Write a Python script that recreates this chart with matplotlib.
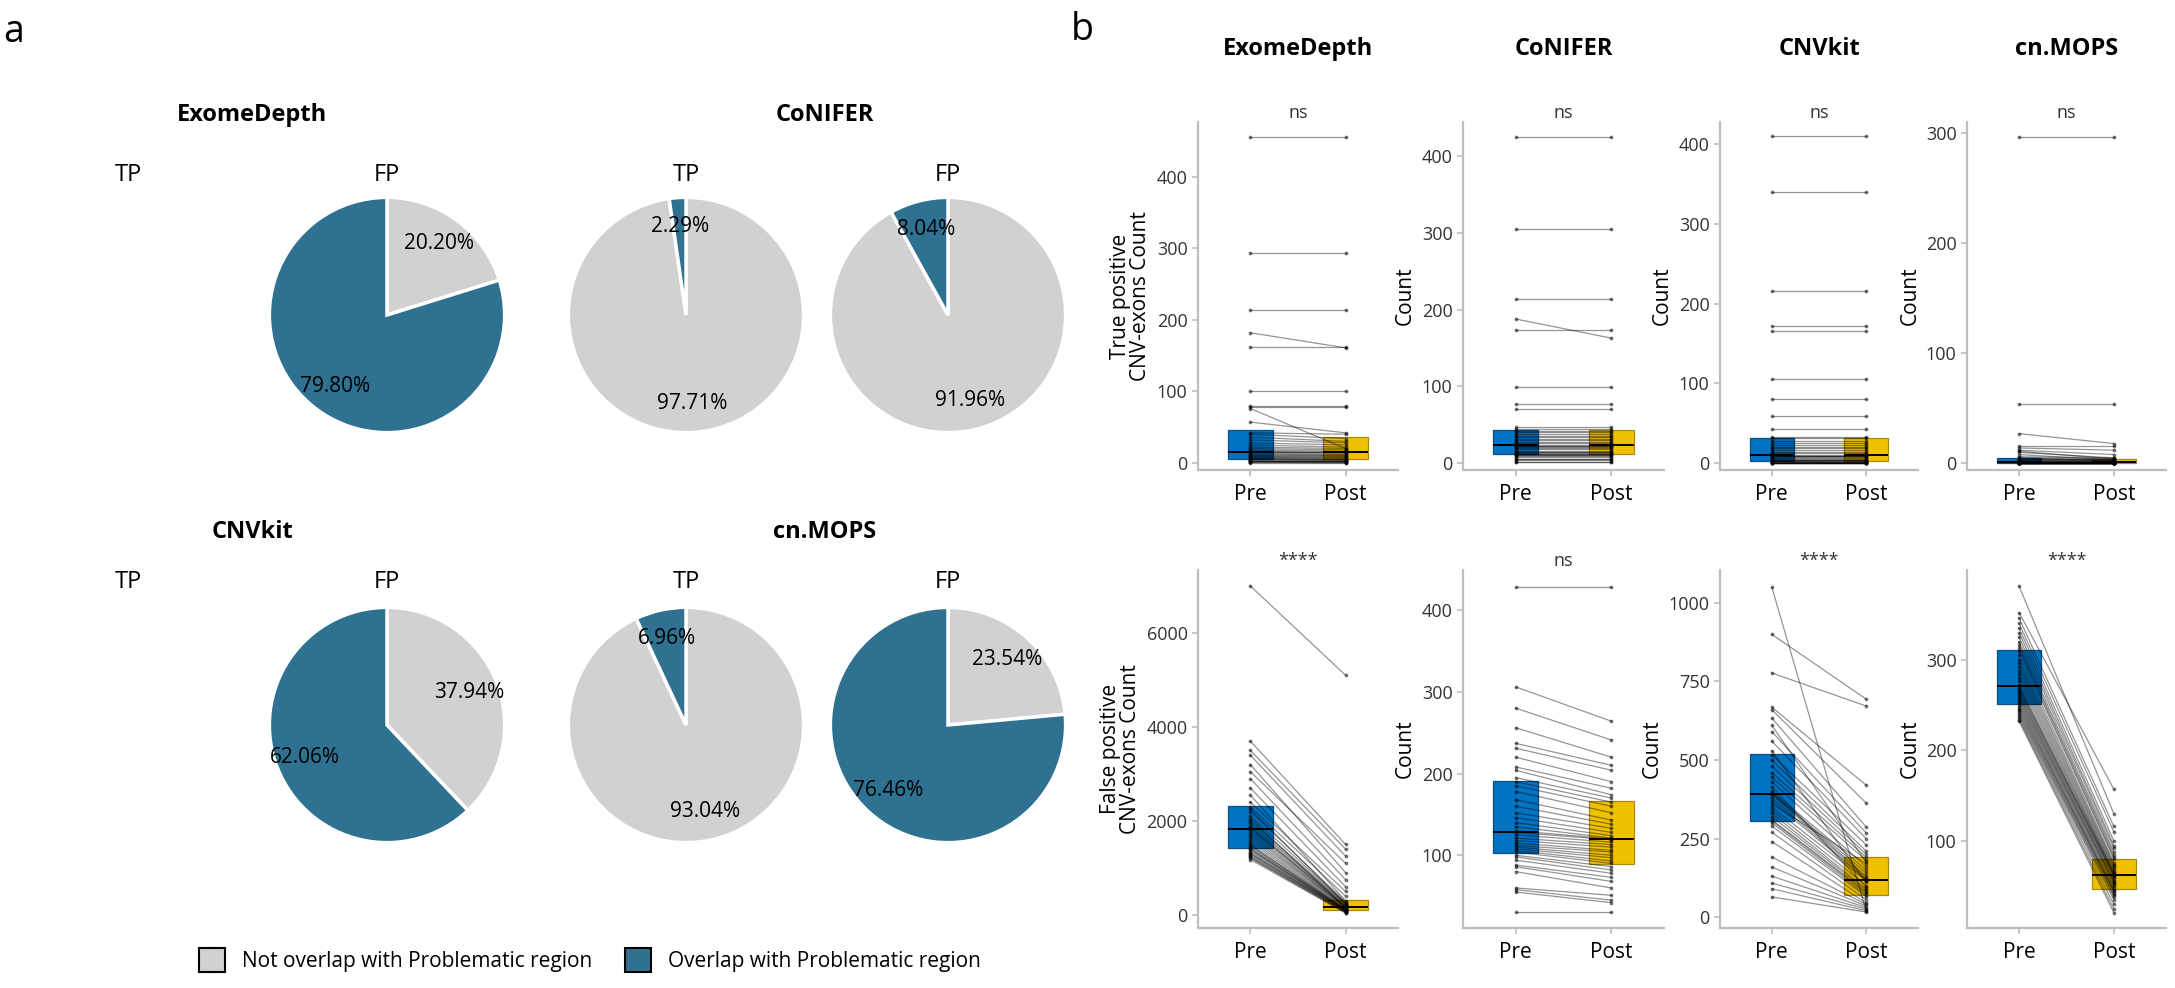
import numpy as np
import matplotlib
matplotlib.use("Agg")
import matplotlib.pyplot as plt
from matplotlib.patches import Patch

plt.rcParams['font.family'] = ['Open Sans', 'DejaVu Sans']

# ---------------- panel a data (percent of calls) ----------------
pie_tools = ['ExomeDepth', 'CoNIFER', 'CNVkit', 'cn.MOPS']
# [not overlap, overlap]; None = no pie drawn
pie_tp = {'ExomeDepth': None, 'CoNIFER': [97.71, 2.29],
          'CNVkit': None, 'cn.MOPS': [93.04, 6.96]}
pie_fp = {'ExomeDepth': [20.20, 79.80], 'CoNIFER': [91.96, 8.04],
          'CNVkit': [37.94, 62.06], 'cn.MOPS': [23.54, 76.46]}
legend_labels = ['Not overlap with Problematic region', 'Overlap with Problematic region']

# ---------------- panel b data (CNV-exon counts per sample) ----------------
groups = ['Pre', 'Post']

ed_tp_pre = [456, 294, 214, 182, 162, 101, 79, 78, 76, 57, 42, 40, 36, 32, 28, 25, 22, 20, 18, 16,
             15, 15, 14, 12, 11, 10, 9, 8, 7, 6, 6, 5, 4, 3, 3, 2, 2, 1, 1, 0]
ed_tp_post = [456, 294, 214, 161, 162, 101, 79, 78, 20, 42, 40, 34, 30, 28, 25, 22, 20, 18, 16, 15,
              15, 14, 12, 11, 10, 9, 8, 7, 6, 5, 4, 4, 3, 3, 2, 2, 1, 1, 0, 0]

cf_tp_pre = [426, 305, 214, 188, 174, 99, 77, 70, 47, 45, 42, 40, 38, 36, 34, 32, 30, 28, 26, 24,
             22, 22, 21, 20, 18, 16, 15, 14, 13, 12, 12, 11, 10, 9, 8, 6, 5, 4, 2, 1]
cf_tp_post = [426, 305, 214, 163, 174, 99, 77, 70, 47, 45, 42, 40, 38, 36, 34, 32, 30, 28, 26, 24,
              22, 22, 21, 20, 18, 16, 15, 14, 13, 12, 12, 11, 10, 9, 8, 6, 5, 4, 2, 1]

ck_tp_pre = [410, 340, 216, 172, 165, 105, 80, 59, 42, 33, 31, 28, 25, 22, 20, 18, 16, 14, 12, 10,
             9, 8, 8, 7, 6, 5, 4, 4, 3, 2, 2, 1, 1, 1, 0, 0, 0, 0, 0, 0]
ck_tp_post = [410, 340, 216, 172, 165, 105, 80, 59, 42, 33, 31, 28, 25, 22, 20, 18, 16, 14, 12, 10,
              9, 8, 8, 7, 6, 5, 4, 4, 3, 2, 1, 1, 1, 0, 0, 0, 0, 0, 0, 0]

cm_tp_pre = [296, 54, 27, 16, 14, 12, 11, 10, 8, 6, 5, 5, 4, 4, 3, 3, 2, 2, 2, 1,
             1, 1, 1, 0, 0, 0, 0, 0, 0, 0, 0, 0, 0, 0, 0, 0, 0, 0, 0, 0]
cm_tp_post = [296, 54, 18, 16, 12, 8, 4, 5, 3, 5, 4, 2, 3, 4, 2, 3, 1, 2, 2, 1,
              1, 0, 1, 0, 0, 0, 0, 0, 0, 0, 0, 0, 0, 0, 0, 0, 0, 0, 0, 0]

ed_fp_pre = [7000, 3700, 3500, 3400, 3200, 3050, 2900, 2700, 2550, 2400, 2300, 2250, 2200, 2100,
             2050, 2000, 1950, 1900, 1850, 1850, 1800, 1750, 1700, 1650, 1600, 1550, 1500, 1480,
             1450, 1420, 1400, 1380, 1350, 1320, 1300, 1280, 1250, 1230, 1210, 1180]
ed_fp_post = [5100, 1500, 1400, 1250, 900, 1100, 750, 600, 300, 500, 400, 240, 280, 260, 150,
              250, 230, 220, 200, 190, 180, 170, 165, 160, 140, 130, 120, 115, 110, 105, 100, 95,
              90, 85, 80, 75, 70, 60, 50, 40]

cf_fp_pre = [428, 306, 280, 256, 237, 231, 220, 208, 204, 195, 190, 185, 178, 168, 160, 152, 146,
             140, 135, 130, 128, 125, 121, 118, 115, 112, 110, 108, 106, 104, 100, 98, 94, 88, 86,
             80, 60, 58, 55, 31]
cf_fp_post = [428, 264, 241, 220, 210, 204, 190, 182, 174, 170, 165, 160, 152, 143, 138, 133, 128,
              124, 121, 120, 119, 116, 113, 110, 106, 104, 100, 97, 93, 90, 86, 82, 78, 73, 68, 60,
              51, 45, 42, 31]

ck_fp_pre = [1050, 900, 777, 668, 660, 633, 610, 590, 560, 530, 516, 500, 480, 460, 445, 430, 415,
             400, 395, 395, 390, 380, 370, 360, 350, 340, 330, 320, 310, 306, 300, 290, 270, 240,
             191, 159, 130, 108, 90, 64]
ck_fp_post = [20, 694, 672, 420, 363, 287, 175, 268, 250, 110, 230, 210, 200, 190, 180, 160, 95,
              150, 140, 130, 125, 120, 118, 170, 115, 100, 90, 85, 80, 76, 70, 65, 55, 45, 40, 35,
              30, 25, 20, 16]

cm_fp_pre = [381, 352, 346, 340, 335, 330, 325, 320, 316, 313, 310, 305, 300, 296, 292, 288, 284,
             280, 276, 272, 270, 268, 266, 264, 262, 260, 258, 256, 254, 252, 250, 248, 246, 244,
             242, 240, 238, 236, 234, 232]
cm_fp_post = [130, 157, 116, 110, 100, 95, 92, 88, 85, 82, 80, 76, 74, 72, 70, 68, 66, 65, 64, 63,
              62, 61, 60, 58, 56, 55, 54, 52, 50, 48, 46, 45, 44, 42, 40, 38, 35, 30, 25, 21]

tp_sets = [(ed_tp_pre, ed_tp_post), (cf_tp_pre, cf_tp_post), (ck_tp_pre, ck_tp_post), (cm_tp_pre, cm_tp_post)]
fp_sets = [(ed_fp_pre, ed_fp_post), (cf_fp_pre, cf_fp_post), (ck_fp_pre, ck_fp_post), (cm_fp_pre, cm_fp_post)]
tp_signif = ['ns', 'ns', 'ns', 'ns']
fp_signif = ['****', 'ns', '****', '****']

# styling
TEAL = '#2E7190'
LGRAY = '#D3D0D1'
BLUE = '#0073C2'
YELLOW = '#EFC000'
AXGRAY = '#BEBEBE'

W, H = 2175, 988
fig = plt.figure(figsize=(W / 100, H / 100), dpi=100)


def px_axes(left, top, right, bottom):
    return fig.add_axes([left / W, 1 - bottom / H, (right - left) / W, (bottom - top) / H])


def ftext(x, y, s, **kw):
    fig.text(x / W, 1 - y / H, s, ha='center', va='center', **kw)


# ---------------- panel a ----------------
ftext(14, 32, 'a', fontsize=27)
ftext(1082, 30, 'b', fontsize=27)

pie_r = 120
row_y = [315, 725]
label_y = [175, 582]
title_y = [115, 532]
tp_x, fp_x = [128, 686], [387, 948]
title_x = [252, 825]

for i, tool in enumerate(pie_tools):
    row, col = i // 2, i % 2
    ftext(title_x[col], title_y[row], tool, fontsize=17, fontweight='bold')
    ftext(tp_x[col], label_y[row], 'TP', fontsize=17)
    ftext(fp_x[col], label_y[row], 'FP', fontsize=17)
    for cx, vals in [(tp_x[col], pie_tp[tool]), (fp_x[col], pie_fp[tool])]:
        if vals is None:
            continue
        cy = row_y[row]
        ax = px_axes(cx - pie_r, cy - pie_r, cx + pie_r, cy + pie_r)
        ax.pie(vals, colors=[LGRAY, TEAL], startangle=90, counterclock=False,
               autopct='%.2f%%', pctdistance=0.75,
               wedgeprops=dict(edgecolor='white', linewidth=2.5),
               textprops=dict(fontsize=15, color='black'))
        ax.set_xlim(-1.02, 1.02)
        ax.set_ylim(-1.02, 1.02)

handles = [Patch(facecolor=LGRAY, edgecolor='black', linewidth=1.5),
           Patch(facecolor=TEAL, edgecolor='black', linewidth=1.5)]
fig.legend(handles, legend_labels, loc='center', bbox_to_anchor=(590 / W, 1 - 960 / H),
           ncol=2, frameon=False, fontsize=15, handlelength=1.25, handleheight=1.4,
           handletextpad=0.8, columnspacing=1.6)

# ---------------- panel b ----------------
col_x = [(1198, 1398), (1463, 1664), (1720, 1918), (1967, 2166)]
row_px = [(122, 470), (570, 928)]
ylims = [[(-10, 477), (-9, 445), (-9, 428), (-6, 310)],
         [(-277, 7340), (11, 449), (-35, 1105), (4, 399)]]
yticks = [[[0, 100, 200, 300, 400]] * 3 + [[0, 100, 200, 300]],
          [[0, 2000, 4000, 6000], [100, 200, 300, 400], [0, 250, 500, 750, 1000], [100, 200, 300]]]
ylabels = [['True positive\nCNV-exons Count', 'Count', 'Count', 'Count'],
           ['False positive\nCNV-exons Count', 'Count', 'Count', 'Count']]

for r, (sets, signif) in enumerate([(tp_sets, tp_signif), (fp_sets, fp_signif)]):
    for c, (pre, post) in enumerate(sets):
        ax = px_axes(col_x[c][0], row_px[r][0], col_x[c][1], row_px[r][1])
        bp = ax.boxplot([pre, post], positions=[1, 2], widths=0.47, patch_artist=True,
                        showfliers=False, showcaps=False, whis=0,
                        medianprops=dict(color='black', linewidth=1.4),
                        whiskerprops=dict(linewidth=0))
        for patch, fc, ec in zip(bp['boxes'], [BLUE, YELLOW], ['#0A4F85', '#A88A10']):
            patch.set_facecolor(fc)
            patch.set_edgecolor(ec)
            patch.set_linewidth(0.9)
        for p, q in zip(pre, post):
            ax.plot([1, 2], [p, q], color='black', alpha=0.42, linewidth=0.9,
                    marker='o', markersize=1.8, zorder=3)
        ax.set_xlim(0.45, 2.55)
        ax.set_ylim(*ylims[r][c])
        ax.set_yticks(yticks[r][c])
        ax.set_xticks([1, 2])
        ax.set_xticklabels(groups, fontsize=15)
        ax.tick_params(axis='y', labelsize=13, colors=AXGRAY, labelcolor='#333333', length=4, width=1.2)
        ax.tick_params(axis='x', colors=AXGRAY, labelcolor='black', length=4, width=1.2, pad=6)
        for s in ['top', 'right']:
            ax.spines[s].set_visible(False)
        for s in ['left', 'bottom']:
            ax.spines[s].set_color(AXGRAY)
            ax.spines[s].set_linewidth(1.6)
        ax.set_ylabel(ylabels[r][c], fontsize=15, linespacing=0.95, labelpad=4)
        ax.text(1.5, 1.0, signif[c], transform=ax.get_xaxis_transform(),
                ha='center', va='bottom', fontsize=13, color='#333333')
        if r == 0:
            ax.set_title(pie_tools[c], fontsize=17, fontweight='bold', pad=48)

fig.savefig('out.png', dpi=100)
